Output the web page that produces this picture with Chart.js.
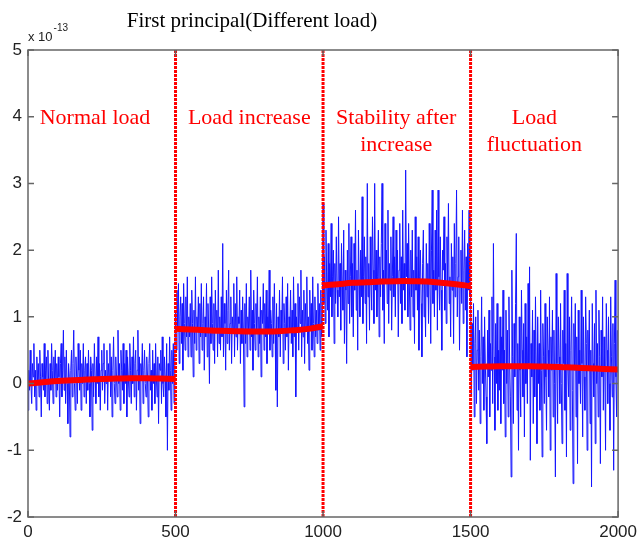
<!DOCTYPE html>
<html>
<head>
<meta charset="utf-8">
<script src="https://cdn.jsdelivr.net/npm/chart.js@4.4.1/dist/chart.umd.min.js"></script>
<style>
  html, body { margin: 0; padding: 0; background: #fff; }
  canvas { display: block; }
</style>
</head>
<body>
<canvas id="chart" width="642" height="544"></canvas>
<script>
// First principal component, one value every 2.5 samples (values x 1e-13)
const sampleStep = 2.5;

// Normal load (0-500)
const normalLoad = [
  -0.4,0.2,-0.1,0.5,0.0,-0.3,0.3,0.1,0.6,-0.2,0.2,-0.4,0.4,0.0,0.3,-0.2,0.5,0.1,-0.5,0.3,
  0.1,-0.1,0.6,-0.2,0.2,0.4,-0.3,0.5,0.0,-0.4,0.3,-0.1,0.6,0.2,-0.3,0.4,0.0,0.5,-0.2,0.3,
  -0.1,0.4,0.1,-0.5,0.3,0.6,-0.2,0.2,0.8,-0.1,0.4,-0.3,0.5,0.0,-0.6,0.3,0.1,-0.8,0.2,0.5,
  -0.2,0.3,0.8,0.0,-0.4,0.4,0.1,-0.3,0.6,0.2,-0.1,0.5,-0.4,0.3,0.0,0.6,-0.2,0.2,0.4,-0.3,
  0.3,-0.1,0.5,0.0,-0.5,0.4,0.2,-0.7,0.3,-0.2,0.6,0.1,-0.3,0.4,0.0,0.7,-0.2,0.3,-0.4,0.2,
  0.5,-0.1,0.3,0.6,-0.3,0.2,0.0,0.5,-0.4,0.3,0.1,0.6,-0.2,0.4,-0.5,0.2,0.7,0.0,-0.3,0.4,
  0.1,-0.2,0.8,0.0,0.3,-0.4,0.5,0.2,-0.1,0.6,-0.3,0.3,0.0,0.5,-0.5,0.4,0.1,-0.2,0.6,0.2,
  -0.3,0.4,0.0,0.7,-0.2,0.3,0.5,-0.4,0.2,0.8,-0.1,0.4,-0.6,0.3,0.1,0.6,-0.3,0.2,0.5,0.0,
  -0.2,0.4,0.1,-0.5,0.3,0.6,-0.1,0.2,-0.4,0.5,0.0,0.3,-0.3,0.6,0.1,-0.2,0.4,-0.6,0.3,0.2,
  0.5,-0.3,0.7,0.0,-0.2,0.4,0.1,-0.5,0.6,-1.0,0.3,-0.1,0.7,0.2,-0.4,0.5,0.0,0.6,-0.3,0.4
];

// Load increase (500-1000)
const loadIncrease = [
  1.1,0.5,1.4,0.8,1.5,0.3,1.0,1.3,0.6,1.2,0.2,1.5,0.9,0.5,1.3,0.7,1.6,0.4,1.0,0.7,
  1.2,0.4,1.4,0.9,0.1,1.1,0.6,1.6,0.5,1.0,0.8,1.3,0.3,1.2,0.7,1.5,0.5,0.9,1.3,0.2,
  1.0,0.7,1.5,0.4,1.2,0.8,0.0,1.3,0.6,1.6,0.9,0.5,1.2,0.3,1.4,0.8,1.1,0.4,1.7,0.6,
  1.0,0.5,1.3,0.7,2.1,0.4,1.2,0.9,0.2,1.4,0.6,1.1,1.7,0.5,0.9,1.3,0.3,1.0,0.8,1.5,
  0.4,1.2,0.7,1.6,0.5,1.0,0.9,1.4,0.3,1.1,0.6,1.3,0.8,-0.35,1.2,0.6,1.5,0.4,1.0,0.8,
  1.3,0.5,1.7,0.7,1.1,0.2,1.4,0.9,0.5,1.2,0.8,1.6,0.4,1.0,0.6,1.3,0.1,1.1,0.9,1.5,
  0.5,1.2,0.7,1.4,0.3,1.0,0.8,1.7,0.5,1.1,0.9,0.4,1.3,0.6,1.5,0.8,-0.1,1.2,-0.35,1.0,
  0.7,1.4,0.4,1.1,0.8,1.6,0.3,1.2,0.9,0.5,1.3,0.7,1.5,0.2,1.0,0.8,1.4,0.6,1.1,0.4,
  1.6,0.7,1.2,-0.2,1.0,0.8,1.5,0.5,1.3,0.9,1.7,0.4,1.1,0.7,1.4,0.3,1.2,0.8,1.6,0.6,
  1.0,0.2,1.4,0.8,1.2,0.5,1.6,0.9,0.4,1.3,0.7,1.1,0.6,1.5,0.8,1.2,0.5,1.4,0.7,1.0
];

// Stability after increase (1000-1500)
const stableHigh = [
  2.7,1.2,1.9,0.9,2.3,1.5,1.1,2.1,0.7,1.8,1.3,2.4,1.0,1.6,2.0,0.6,1.8,1.2,2.2,1.4,
  1.0,2.5,1.3,1.8,0.8,2.1,1.5,1.1,2.3,0.6,1.7,1.4,0.3,2.0,1.2,2.4,0.9,1.6,2.2,1.0,
  1.8,0.7,2.1,1.4,2.6,1.1,1.7,0.5,2.3,1.5,1.0,2.0,1.3,2.8,0.9,1.6,2.2,1.2,1.9,0.6,
  3.0,1.3,1.8,0.8,2.2,1.5,1.1,2.5,1.7,0.9,3.0,1.4,2.0,1.0,1.6,2.3,0.7,1.9,1.3,2.1,
  3.0,1.1,1.7,0.6,2.4,1.5,2.0,1.2,2.6,0.9,1.8,1.4,2.2,0.8,1.6,2.5,1.3,1.9,1.0,2.3,
  1.5,2.0,0.7,1.7,2.4,1.2,1.9,0.9,2.6,1.4,1.8,1.1,3.2,1.6,2.1,1.0,2.4,1.5,0.8,2.0,
  1.3,2.3,1.0,1.7,0.6,2.5,1.4,1.9,1.1,2.2,0.5,1.6,2.0,1.2,0.4,1.8,2.3,1.0,1.5,0.7,
  2.1,1.3,1.8,0.9,2.4,1.5,0.6,2.0,2.9,1.2,1.7,1.0,2.3,1.4,2.6,0.8,2.9,1.6,1.1,2.2,
  1.4,0.5,2.0,1.7,2.5,1.1,1.8,0.9,2.2,1.5,2.7,1.2,1.6,0.7,2.1,1.4,1.9,0.6,2.4,1.3,
  1.8,2.9,1.0,1.6,2.2,0.5,1.5,2.0,1.2,2.6,0.9,1.7,2.3,1.1,1.9,0.4,2.1,1.4,2.6,1.3
];

// Load fluctuation (1500-2000)
const loadFluct = [
  1.4,-0.2,0.9,0.2,1.2,-0.5,0.6,1.0,-0.3,0.5,1.1,-0.1,0.8,-0.6,0.4,1.3,0.0,0.7,-0.4,1.0,
  0.3,-0.2,-0.9,0.8,0.1,1.1,-0.5,0.6,0.2,1.3,-0.3,2.1,0.4,-0.7,0.9,0.0,1.2,-0.4,0.5,-0.1,
  1.0,-0.6,0.7,0.2,1.4,-0.3,0.5,-0.8,1.1,0.0,0.8,-0.5,1.3,0.3,-0.2,-1.4,1.7,0.4,-0.6,0.9,
  0.1,1.2,2.25,-0.4,0.6,-1.0,1.0,0.2,-0.5,1.4,0.5,-0.2,0.9,-0.8,1.2,0.0,0.7,-0.3,1.5,0.3,
  1.75,-1.15,0.6,0.1,1.1,-0.6,0.8,-0.2,1.3,0.3,-0.9,1.0,0.0,0.6,-0.4,1.4,0.2,-1.1,0.9,0.4,
  -0.3,1.2,0.1,-0.7,1.0,0.5,-0.2,1.3,-1.0,0.7,0.2,1.1,-0.5,0.8,0.0,-1.4,1.65,0.3,-0.6,1.0,
  0.4,-0.3,1.2,0.0,-0.9,0.8,0.3,1.4,-0.4,0.6,-1.1,1.65,0.2,-0.2,1.0,-0.7,0.5,1.3,-0.1,-1.5,
  0.9,0.2,1.2,-0.5,0.7,-1.2,1.1,0.0,0.5,-0.3,1.4,0.3,-0.8,1.0,0.1,-0.4,1.3,0.6,-1.0,0.8,
  0.2,1.1,-0.6,0.5,-1.55,1.2,0.3,-0.2,0.9,-0.9,1.4,0.0,0.6,-0.5,1.1,0.4,-1.2,0.8,0.1,1.3,
  -0.4,0.7,0.2,-1.0,1.2,0.5,-0.3,1.0,0.0,-0.7,1.3,0.4,-0.2,0.9,-1.3,0.6,1.55,0.1,-0.5,0.8
];

// Red trend line, one value every 50 samples inside each segment
const segmentStarts = [0, 500, 1000, 1500];
const trendOffsets = [0, 50, 100, 150, 200, 250, 300, 350, 400, 450, 500];
const trendNormal   = [0.00, 0.02, 0.04, 0.05, 0.06, 0.07, 0.075, 0.08, 0.08, 0.075, 0.07];
const trendIncrease = [0.82, 0.81, 0.80, 0.79, 0.785, 0.78, 0.78, 0.785, 0.80, 0.82, 0.86];
const trendStable   = [1.47, 1.49, 1.51, 1.52, 1.53, 1.535, 1.535, 1.53, 1.51, 1.49, 1.46];
const trendFluct    = [0.25, 0.255, 0.26, 0.26, 0.26, 0.255, 0.25, 0.24, 0.23, 0.22, 0.21];

const dividerX = [500, 1000, 1500];

// Segment labels
const labelTexts = [['Normal load'], ['Load increase'], ['Stability after', 'increase'], ['Load', 'fluctuation']];
const labelX = [227, 750, 1248, 1716];
const labelY = 3.97;

const yTicks = [-2, -1, 0, 1, 2, 3, 4, 5];
const xTicks = [0, 500, 1000, 1500, 2000];

// build datasets
const signal = normalLoad.concat(loadIncrease, stableHigh, loadFluct)
  .map((v, i) => ({ x: i * sampleStep, y: v }));

const trends = [trendNormal, trendIncrease, trendStable, trendFluct].map((t, s) => ({
  data: t.map((v, i) => ({ x: segmentStarts[s] + trendOffsets[i], y: v })),
  borderColor: '#ff0000',
  borderWidth: 6,
  pointRadius: 0,
  tension: 0.4,
  order: 2
}));

const dividers = dividerX.map(x => ({
  data: [{ x: x, y: -2 }, { x: x, y: 5 }],
  borderColor: '#ff0000',
  borderWidth: 3,
  borderDash: [3, 1],
  pointRadius: 0,
  order: 1
}));

// frame, inward ticks, title, multiplier and segment labels
const decorPlugin = {
  id: 'decor',
  afterDraw(chart) {
    const { ctx, chartArea: a, scales } = chart;
    ctx.save();

    // red labels
    ctx.fillStyle = '#ff0000';
    ctx.font = '22px "Liberation Serif", "Times New Roman", serif';
    ctx.textAlign = 'center';
    ctx.textBaseline = 'middle';
    labelTexts.forEach((lines, i) => {
      const px = scales.x.getPixelForValue(labelX[i]);
      const py = scales.y.getPixelForValue(labelY);
      lines.forEach((line, j) => ctx.fillText(line, px, py + j * 27));
    });

    // box
    ctx.strokeStyle = '#666';
    ctx.lineWidth = 1.5;
    ctx.strokeRect(a.left, a.top, a.right - a.left, a.bottom - a.top);

    ctx.beginPath();
    yTicks.forEach(v => {
      const py = scales.y.getPixelForValue(v);
      ctx.moveTo(a.left, py); ctx.lineTo(a.left + 6, py);
      ctx.moveTo(a.right, py); ctx.lineTo(a.right - 6, py);
    });
    xTicks.forEach(v => {
      const px = scales.x.getPixelForValue(v);
      ctx.moveTo(px, a.bottom); ctx.lineTo(px, a.bottom - 6);
      ctx.moveTo(px, a.top); ctx.lineTo(px, a.top + 6);
    });
    ctx.stroke();

    // title
    ctx.fillStyle = '#000';
    ctx.font = '21px "Liberation Serif", "Times New Roman", serif';
    ctx.textAlign = 'center';
    ctx.textBaseline = 'alphabetic';
    ctx.fillText('First principal(Different load)', 252, 27);

    // exponent
    ctx.fillStyle = '#222';
    ctx.textAlign = 'left';
    ctx.font = '13px "Liberation Sans", Arial, sans-serif';
    ctx.fillText('x 10', 28, 41);
    const w = ctx.measureText('x 10').width;
    ctx.font = '10px "Liberation Sans", Arial, sans-serif';
    ctx.fillText('-13', 28 + w + 1, 31);

    ctx.restore();
  }
};

new Chart(document.getElementById('chart'), {
  type: 'line',
  data: {
    datasets: [
      ...dividers,
      ...trends,
      {
        data: signal,
        borderColor: '#1414ff',
        borderWidth: 1,
        pointRadius: 0,
        tension: 0,
        order: 3
      }
    ]
  },
  options: {
    responsive: false,
    animation: false,
    layout: { padding: { top: 50, right: 21, left: 0, bottom: 0 } },
    plugins: {
      legend: { display: false },
      tooltip: { enabled: false }
    },
    scales: {
      x: {
        type: 'linear',
        min: 0,
        max: 2000,
        afterFit(scale) { scale.height = 27; },
        afterBuildTicks(scale) { scale.ticks = xTicks.map(v => ({ value: v })); },
        grid: { display: false, drawTicks: false },
        border: { display: false },
        ticks: {
          padding: 5,
          maxRotation: 0,
          color: '#222',
          callback: v => String(v),
          font: { family: '"Liberation Sans", Arial, sans-serif', size: 17 }
        }
      },
      y: {
        type: 'linear',
        min: -2,
        max: 5,
        afterFit(scale) { scale.width = 28; },
        afterBuildTicks(scale) { scale.ticks = yTicks.map(v => ({ value: v })); },
        grid: { display: false, drawTicks: false },
        border: { display: false },
        ticks: {
          padding: 6,
          color: '#222',
          callback: v => String(v),
          font: { family: '"Liberation Sans", Arial, sans-serif', size: 17 }
        }
      }
    }
  },
  plugins: [decorPlugin]
});
</script>
</body>
</html>
